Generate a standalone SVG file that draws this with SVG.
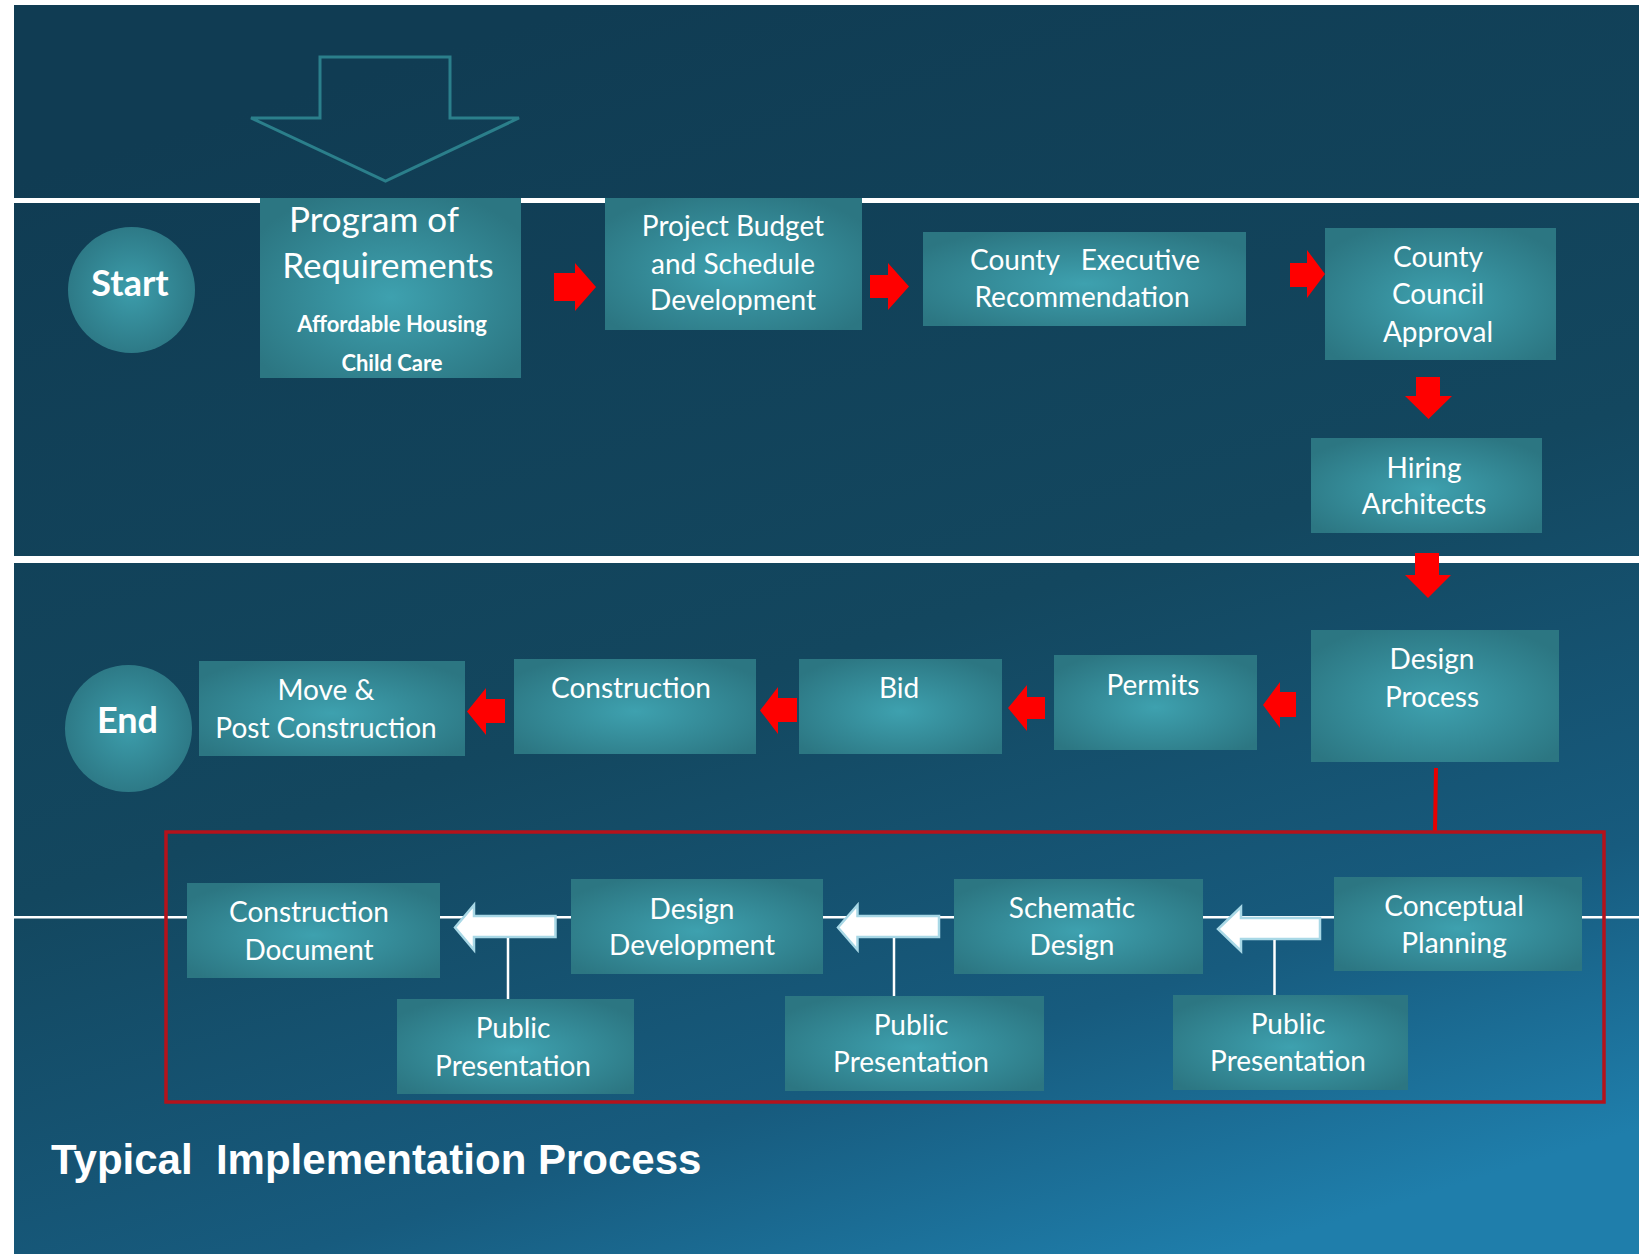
<svg xmlns="http://www.w3.org/2000/svg" xmlns:xlink="http://www.w3.org/1999/xlink" width="1639" height="1254" viewBox="0 0 1639 1254">
<defs>
<linearGradient id="bg" x1="0.35" y1="0" x2="0.75" y2="1">
<stop offset="0" stop-color="#103c53"/>
<stop offset="0.5" stop-color="#13475f"/>
<stop offset="0.8" stop-color="#175b7e"/>
<stop offset="1" stop-color="#1f7eab"/>
</linearGradient>
<radialGradient id="box" cx="0.5" cy="0.55" r="0.62">
<stop offset="0" stop-color="#3ea1af"/>
<stop offset="1" stop-color="#2c7682"/>
</radialGradient>
<radialGradient id="circ" cx="0.5" cy="0.5" r="0.55">
<stop offset="0" stop-color="#3c9dab"/>
<stop offset="1" stop-color="#2c7683"/>
</radialGradient>
</defs>
<style>
.box{fill:url(#box);}
.circ{fill:url(#circ);}
.t{font-family:Lato,"Open Sans","Liberation Sans",sans-serif;fill:#ffffff;text-anchor:middle;font-size:28px;}
.big{font-size:35px;}
.sub{font-size:22px;font-weight:bold;}
.ct{font-size:36px;font-weight:bold;}
.red{fill:#ff0000;}
.wa{fill:#ffffff;stroke:#a8d8e6;stroke-width:2.5;stroke-linejoin:miter;}
.wl{stroke:#ffffff;stroke-width:2.5;fill:none;}
.title{font-family:"Liberation Sans",Arial,sans-serif;font-weight:bold;font-size:42px;fill:#ffffff;}
</style>
<rect x="0" y="0" width="1639" height="1254" fill="#ffffff"/>
<rect x="14" y="5" width="1625" height="1249" fill="url(#bg)"/>
<!-- lane lines -->
<rect x="14" y="198" width="1625" height="5" fill="#ffffff"/>
<rect x="14" y="556" width="1625" height="7" fill="#ffffff"/>
<rect x="14" y="916" width="1625" height="2.5" fill="#ffffff"/>
<!-- hollow arrow -->
<path d="M320,57 H450 V118 H519 L385.5,181 L251,118 H320 Z" fill="none" stroke="#2b7f8b" stroke-width="3"/>

<g id="connectors">
<path class="red" d="M554,273 H575 V263 L596,287 L575,311 V301 H554 Z"/>
<path class="red" d="M870,275 H888 V263 L909,286.5 L888,310 V298 H870 Z"/>
<path class="red" d="M1290,263 H1307 V250 L1325,274 L1307,298 V287 H1290 Z"/>
<path class="red" d="M1416,377 H1440 V396 H1452 L1428.5,419 L1405,396 H1416 Z"/>
<path class="red" d="M1415,553 H1439 V575 H1451 L1428,598 L1405,575 H1415 Z"/>
<path class="red" d="M1296,692 H1280 V682 L1263,705 L1280,728 V717 H1296 Z"/>
<path class="red" d="M1045,697 H1027 V685 L1008,708 L1027,731 V719 H1045 Z"/>
<path class="red" d="M797,698 H778 V687 L760,710.5 L778,734 V722 H797 Z"/>
<path class="red" d="M505,699 H486 V688 L467,711.5 L486,735 V723 H505 Z"/>
<line x1="1436" y1="768" x2="1435" y2="833" stroke="#e80000" stroke-width="4"/>
<rect x="166" y="832" width="1438" height="270" fill="none" stroke="#b5121b" stroke-width="3.5"/>
<path class="wa" d="M555.5,916 V937 H474 V950 L455,927.5 L474,905 V916 Z"/>
<path class="wa" d="M939,916 V937 H857.5 V950 L838,927.5 L857.5,905 V916 Z"/>
<path class="wa" d="M1320,918 V939 H1241 V951 L1218,929 L1241,907 V918 Z"/>
<line class="wl" x1="508" y1="938" x2="508" y2="1000"/>
<line class="wl" x1="894" y1="938" x2="894" y2="996"/>
<line class="wl" x1="1274.5" y1="940" x2="1274.5" y2="995"/>
</g>

<g id="start">
<ellipse class="circ" cx="131.5" cy="290" rx="63.5" ry="63"/>
<text class="t ct" x="130" y="296">Start</text>
</g>
<g id="program">
<rect class="box" x="260" y="198" width="261" height="180"/>
<text class="t big" x="374" y="232">Program of</text>
<text class="t big" x="388" y="278">Requirements</text>
<text class="t sub" x="392" y="332">Affordable Housing</text>
<text class="t sub" x="392" y="371">Child Care</text>
</g>
<g id="budget">
<rect class="box" x="605" y="198" width="257" height="132"/>
<text class="t" x="733" y="236">Project Budget</text>
<text class="t" x="733" y="274">and Schedule</text>
<text class="t" x="733" y="310">Development</text>
</g>
<g id="executive">
<rect class="box" x="923" y="232" width="323" height="94"/>
<text class="t" x="1085" y="270" xml:space="preserve">County   Executive</text>
<text class="t" x="1082" y="307">Recommendation</text>
</g>
<g id="council">
<rect class="box" x="1325" y="228" width="231" height="132"/>
<text class="t" x="1438" y="267">County</text>
<text class="t" x="1438" y="304">Council</text>
<text class="t" x="1438" y="342">Approval</text>
</g>
<g id="hiring">
<rect class="box" x="1311" y="438" width="231" height="95"/>
<text class="t" x="1424" y="478">Hiring</text>
<text class="t" x="1424" y="514">Architects</text>
</g>
<g id="design-process">
<rect class="box" x="1311" y="630" width="248" height="132"/>
<text class="t" x="1432" y="669">Design</text>
<text class="t" x="1432" y="707">Process</text>
</g>
<g id="permits">
<rect class="box" x="1054" y="655" width="203" height="95"/>
<text class="t" x="1153" y="695">Permits</text>
</g>
<g id="bid">
<rect class="box" x="799" y="659" width="203" height="95"/>
<text class="t" x="899" y="698">Bid</text>
</g>
<g id="construction">
<rect class="box" x="514" y="659" width="242" height="95"/>
<text class="t" x="631" y="698">Construction</text>
</g>
<g id="move">
<rect class="box" x="199" y="661" width="266" height="95"/>
<text class="t" x="326" y="700">Move &amp;</text>
<text class="t" x="326" y="738">Post Construction</text>
</g>
<g id="end">
<ellipse class="circ" cx="128.5" cy="728.5" rx="63.5" ry="63.5"/>
<text class="t ct" x="127.5" y="733">End</text>
</g>
<g id="construction-document">
<rect class="box" x="187" y="883" width="253" height="95"/>
<text class="t" x="309" y="922">Construction</text>
<text class="t" x="309" y="960">Document</text>
</g>
<g id="design-development">
<rect class="box" x="571" y="879" width="252" height="95"/>
<text class="t" x="692" y="919">Design</text>
<text class="t" x="692" y="955">Development</text>
</g>
<g id="schematic-design">
<rect class="box" x="954" y="879" width="249" height="95"/>
<text class="t" x="1072" y="918">Schematic</text>
<text class="t" x="1072" y="955">Design</text>
</g>
<g id="conceptual-planning">
<rect class="box" x="1334" y="877" width="248" height="94"/>
<text class="t" x="1454" y="916">Conceptual</text>
<text class="t" x="1454" y="953">Planning</text>
</g>
<g id="public-presentation-1">
<rect class="box" x="397" y="999" width="237" height="95"/>
<text class="t" x="513" y="1038">Public</text>
<text class="t" x="513" y="1076">Presentation</text>
</g>
<g id="public-presentation-2">
<rect class="box" x="785" y="996" width="259" height="95"/>
<text class="t" x="911" y="1035">Public</text>
<text class="t" x="911" y="1072">Presentation</text>
</g>
<g id="public-presentation-3">
<rect class="box" x="1173" y="995" width="235" height="95"/>
<text class="t" x="1288" y="1034">Public</text>
<text class="t" x="1288" y="1071">Presentation</text>
</g>
<text class="title" x="51" y="1174" xml:space="preserve">Typical  Implementation Process</text>
</svg>
